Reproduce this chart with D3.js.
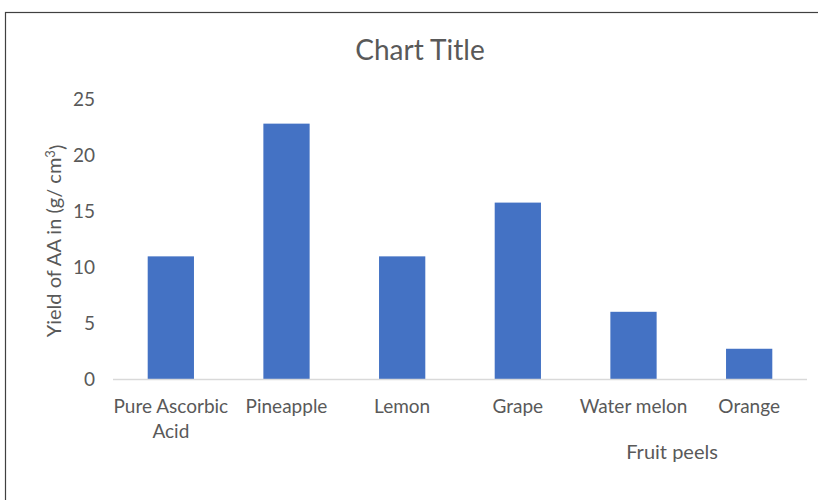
<!DOCTYPE html>
<html>
<head>
<meta charset="utf-8">
<script src="https://cdn.jsdelivr.net/npm/d3@7"></script>
<style>
  body { margin: 0; background: #fff; }
  svg text { font-family: Lato, "Open Sans", sans-serif; fill: #595959; }
</style>
</head>
<body>
<div id="chart"></div>
<script>
// Data
var categories = ['Pure Ascorbic Acid', 'Pineapple', 'Lemon', 'Grape', 'Water melon', 'Orange']
var values = [10.95, 22.8, 10.95, 15.75, 6, 2.7]
var yTicks = [0, 5, 10, 15, 20, 25]

var width = 818, height = 500
var margin = { top: 99, right: 11, bottom: 120, left: 113 }

var svg = d3.select('#chart')
            .append('svg')
            .attr('width', width)
            .attr('height', height)

// chart area frame (runs off the right and bottom edges)
svg.append('rect')
   .attr('x', 5.5)
   .attr('y', 12.5)
   .attr('width', 830)
   .attr('height', 520)
   .attr('fill', '#fff')
   .attr('stroke', '#404040')
   .attr('stroke-width', 1.2)

var x = d3.scaleBand()
          .domain(categories)
          .range([margin.left, width - margin.right])
          .paddingInner(0.6)
          .paddingOuter(0.3)

var y = d3.scaleLinear()
          .domain([0, 25])
          .range([height - margin.bottom - 1, margin.top])

var g = svg.append('g')

// bars
g.selectAll('.bar')
 .data(values)
 .enter()
 .append('rect')
 .attr('class', 'bar')
 .attr('x', function(d, i) { return x(categories[i]) })
 .attr('y', function(d) { return y(d) })
 .attr('width', x.bandwidth())
 .attr('height', function(d) { return y(0) - y(d) })
 .attr('fill', '#4472c4')

// y axis (labels only)
var yAxis = d3.axisLeft(y)
              .tickValues(yTicks)
              .tickSize(0)
              .tickPadding(0)
var yg = svg.append('g')
            .attr('transform', 'translate(' + (margin.left - 18) + ',0)')
            .call(yAxis)
yg.select('.domain').remove()
yg.selectAll('text')
  .style('font-size', '19px')
  .attr('dy', '0.35em')

// baseline
svg.append('line')
   .attr('x1', margin.left)
   .attr('x2', width - margin.right)
   .attr('y1', y(0) + 0.5)
   .attr('y2', y(0) + 0.5)
   .attr('stroke', '#d9d9d9')
   .attr('stroke-width', 1.5)

// x axis labels, wrapped like the original
var xAxis = d3.axisBottom(x).tickSize(0).tickPadding(0)
var xg = svg.append('g')
            .attr('transform', 'translate(0,' + (y(0) + 27) + ')')
            .call(xAxis)
xg.select('.domain').remove()
xg.selectAll('.tick text')
  .style('font-size', '19px')
  .attr('dy', '0.35em')
  .each(function(d) {
    if (d === 'Pure Ascorbic Acid') {
      var t = d3.select(this).text(null)
      t.append('tspan').attr('x', 0).attr('dy', '0.35em').text('Pure Ascorbic')
      t.append('tspan').attr('x', 0).attr('dy', '1.32em').text('Acid')
    }
  })

// titles
svg.append('text')
   .attr('x', 420)
   .attr('y', 50)
   .attr('dy', '0.35em')
   .attr('text-anchor', 'middle')
   .style('font-size', '28px')
   .text('Chart Title')

svg.append('text')
   .attr('x', 672)
   .attr('y', 452)
   .attr('dy', '0.35em')
   .attr('text-anchor', 'middle')
   .style('font-size', '20px')
   .text('Fruit peels')

var yTitle = svg.append('text')
   .attr('transform', 'translate(54,241) rotate(-90)')
   .attr('dy', '0.35em')
   .attr('text-anchor', 'middle')
   .style('font-size', '20px')
yTitle.append('tspan').text('Yield of AA in (g/ cm')
yTitle.append('tspan').attr('dy', '-0.45em').style('font-size', '13px').text('3')
yTitle.append('tspan').attr('dy', '0.45em').text(')')
</script>
</body>
</html>
